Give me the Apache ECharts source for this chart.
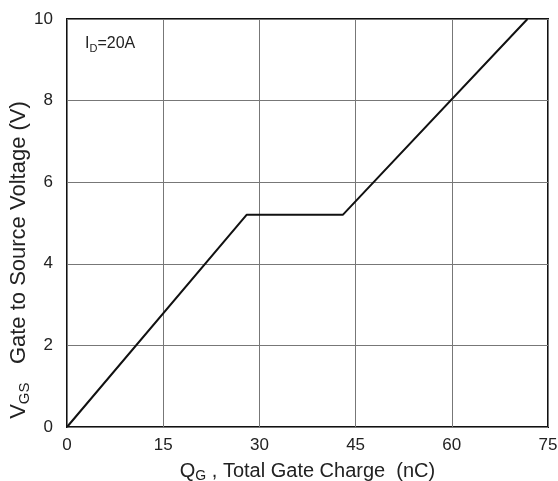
<!DOCTYPE html>
<html><head><meta charset="utf-8">
<script src="https://cdn.jsdelivr.net/npm/echarts@6/dist/echarts.min.js"></script>
<style>html,body{margin:0;padding:0;background:#fff}#c{width:558px;height:481px}</style>
</head><body><div id="c"></div>
<script>
const qgValues = [0, 28, 43, 71.8];
const vgsValues = [0, 5.2, 5.2, 10];
const xTicks = [0, 15, 30, 45, 60, 75];
const yTicks = [0, 2, 4, 6, 8, 10];

const chart = echarts.init(document.getElementById('c'), null, {renderer: 'canvas'});
const font = 'Liberation Sans, Arial, sans-serif';
chart.setOption({
  animation: false,
  backgroundColor: '#fff',
  grid: {left: 67, right: 10, top: 19, bottom: 54, show: true, borderColor: '#111', borderWidth: 2,
         containLabel: false, outerBoundsMode: 'none'},
  xAxis: {
    type: 'value', min: xTicks[0], max: xTicks[xTicks.length-1], interval: 15,
    axisLine: {show: false}, axisTick: {show: false},
    axisLabel: {fontFamily: font, fontSize: 17, color: '#222', margin: 10},
    splitLine: {lineStyle: {color: '#777', width: 1}},
    name: '{m|Q}{s|G}{m| , Total Gate Charge  (nC)}',
    nameLocation: 'middle', nameGap: 32,
    nameTextStyle: {
      rich: {
        m: {fontFamily: font, fontSize: 20, color: '#222', lineHeight: 24},
        s: {fontFamily: font, fontSize: 14, color: '#222', lineHeight: 12, verticalAlign: 'bottom'}
      }
    }
  },
  yAxis: {
    type: 'value', min: yTicks[0], max: yTicks[yTicks.length-1], interval: 2,
    axisLine: {show: false}, axisTick: {show: false},
    axisLabel: {fontFamily: font, fontSize: 17, color: '#222', margin: 14},
    splitLine: {lineStyle: {color: '#777', width: 1}}
  },
  graphic: [{
    type: 'text', left: 85, top: 36,
    style: {
      text: '{m|I}{s|D}{m|=20A}',
      rich: {
        m: {fontFamily: font, fontSize: 16, fill: '#222', lineHeight: 20},
        s: {fontFamily: font, fontSize: 11, fill: '#222', lineHeight: 11, verticalAlign: 'bottom'}
      }
    }
  }, {
    type: 'text', x: 19, y: 260, rotation: Math.PI / 2,
    style: {
      text: '{m|V}{s|GS}{m|   Gate to Source Voltage (V)}',
      align: 'center', verticalAlign: 'middle',
      rich: {
        m: {fontFamily: font, fontSize: 22, fill: '#222', lineHeight: 26},
        s: {fontFamily: font, fontSize: 15, fill: '#222', lineHeight: 13, verticalAlign: 'bottom'}
      }
    }
  }],
  series: [{
    type: 'line', symbol: 'none',
    data: qgValues.map((q, i) => [q, vgsValues[i]]),
    lineStyle: {color: '#111', width: 2}
  }]
});
</script></body></html>
